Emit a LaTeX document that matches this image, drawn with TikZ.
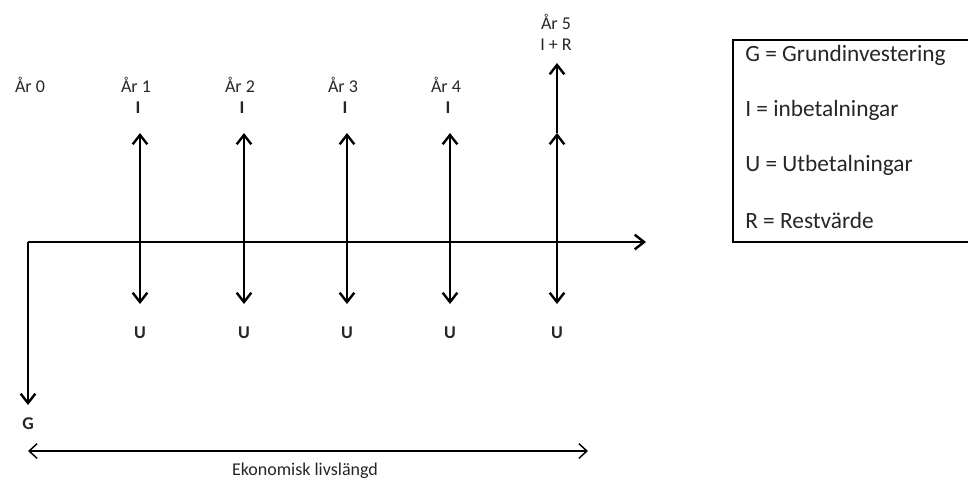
\documentclass[tikz,border=0pt]{standalone}
\usepackage{fontspec}
\setmainfont{Carlito}
\usetikzlibrary{arrows.meta}
\begin{document}
\begin{tikzpicture}[x=0.75pt,y=-0.75pt,
  tip/.style={Straight Barb[length=7pt,width=11pt,line width=1.8pt]},
  flow/.style={line width=2.2pt,-{Straight Barb[length=7pt,width=11pt,line width=1.8pt]}},
  both/.style={line width=2.2pt,{Straight Barb[length=7pt,width=11pt,line width=1.8pt]}-{Straight Barb[length=7pt,width=11pt,line width=1.8pt]}},
  span/.style={line width=1.1pt,{Straight Barb[length=6pt,width=11pt,line width=1.1pt]}-{Straight Barb[length=6pt,width=11pt,line width=1.1pt]}},
  year/.style={font=\fontsize{13.5}{16}\selectfont,text=black!85},
  flowlabel/.style={font=\fontsize{13.5}{16}\selectfont\bfseries,text=black!85},
  legend/.style={font=\fontsize{17.5}{21}\selectfont,anchor=west,inner sep=0pt,text=black!85}]
\useasboundingbox (0,0) rectangle (968,483);
\clip (0,0) rectangle (968,483);

% time axis and initial investment
\coordinate (o) at (28,242);
\coordinate (axisend) at (646,242);
\coordinate (gend) at (28,405);
\draw[flow] (o) -- (axisend);
\draw[flow] (o) -- (gend);
\node[flowlabel] (g) at (28,424) {G};
\node[year] (y0) at (30,85) {År 0};

% years 1-4
\foreach \i/\x in {1/140,2/244,3/347,4/450}{
  \coordinate (top\i) at (\x,133);
  \coordinate (bot\i) at (\x,304);
  \draw[both] (top\i) -- (bot\i);
  \node[year] (y\i) at (\x-4,85) {År \i};
  \node[flowlabel] (in\i) at (\x-2,108) {I};
  \node[flowlabel] (out\i) at (\x,333) {U};
}

% year 5 with residual value
\coordinate (top5) at (557,133);
\coordinate (bot5) at (557,304);
\coordinate (rv) at (557,63);
\draw[both] (top5) -- (bot5);
\draw[flow] (top5) -- (rv);
\node[year] (y5) at (556,22) {År 5};
\node[year] (ir5) at (556,45) {I + R};
\node[flowlabel] (out5) at (557,333) {U};

% economic lifetime
\coordinate (lifeL) at (28,451);
\coordinate (lifeR) at (588,451);
\draw[span] (lifeL) -- (lifeR);
\node[font=\fontsize{13.5}{16}\selectfont,text=black!85] (life) at (305,471) {Ekonomisk livslängd};

% legend
\draw[line width=1.8pt] (733,40) rectangle (975,242);
\node[legend] (lg) at (745,55) {G = Grundinvestering};
\node[legend] (li) at (745,110) {I = inbetalningar};
\node[legend] (lu) at (745,165) {U = Utbetalningar};
\node[legend] (lr) at (745,220) {R = Restvärde};
\end{tikzpicture}
\end{document}
